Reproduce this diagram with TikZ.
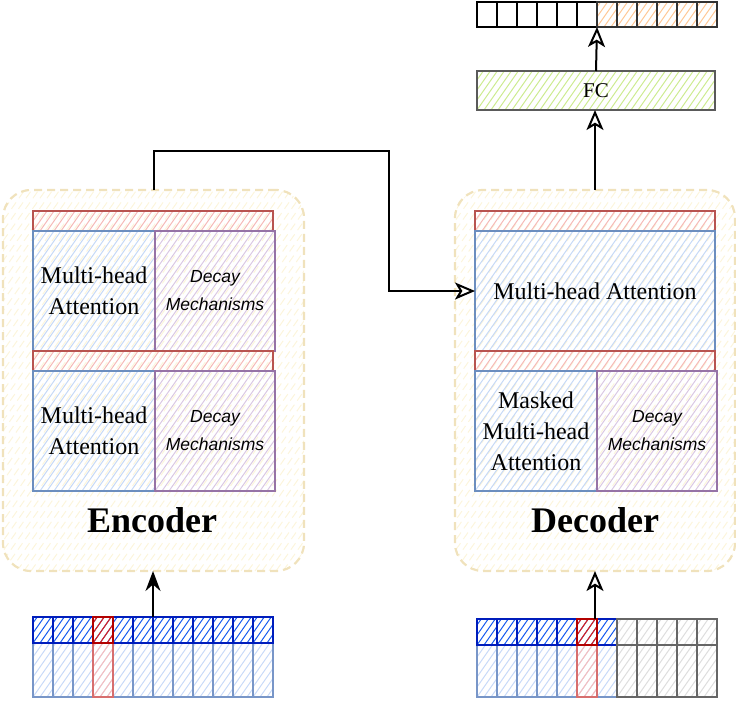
\documentclass[tikz,border=0pt]{standalone}
\usepackage{fontspec}
\setmainfont{Liberation Serif}
\newfontfamily\arialf{Liberation Sans}
\usetikzlibrary{arrows.meta}
\definecolor{contS}{RGB}{240,226,188}
\definecolor{contH}{RGB}{252,245,220}
\definecolor{redS}{RGB}{184,84,80}
\definecolor{redH}{RGB}{245,185,183}
\definecolor{bluS}{RGB}{108,142,191}
\definecolor{bluH}{RGB}{198,217,246}
\definecolor{purS}{RGB}{150,115,166}
\definecolor{purH}{RGB}{218,200,227}
\definecolor{grnS}{RGB}{90,90,90}
\definecolor{grnH}{RGB}{205,235,145}
\definecolor{orgH}{RGB}{255,200,150}
\definecolor{dbS}{RGB}{0,29,188}
\definecolor{dbH}{RGB}{20,90,240}
\definecolor{drS}{RGB}{178,0,0}
\definecolor{drH}{RGB}{229,30,20}
\definecolor{gyS}{RGB}{102,102,102}
\definecolor{gyH}{RGB}{222,222,222}
\definecolor{lbS}{RGB}{120,150,200}
\definecolor{lbH}{RGB}{200,218,248}
\definecolor{lrS}{RGB}{215,110,110}
\definecolor{lrH}{RGB}{248,190,190}
\newcommand\hatchlines[1]{%
  \foreach \k in {-280,-273,...,310}{%
    \draw[#1,line width=1pt] ([xshift=\k pt]path picture bounding box.south west) -- ++(280pt,400pt);}}
\begin{document}
\begin{tikzpicture}[x=1pt,y=-1pt,
  box/.style 2 args={draw=#1, path picture={\hatchlines{#2}},
     line width=1.6pt, inner sep=0pt, outer sep=0pt},
  cont/.style={draw=contS, path picture={\hatchlines{contH}},
     line width=2.2pt, dash pattern=on 8pt off 5pt,
     rounded corners=28pt, inner sep=0pt, outer sep=0pt},
  serif/.style={font=\fontsize{24}{31}\selectfont, align=center, text=black},
  decay/.style={font=\arialf\itshape\fontsize{17.5}{28}\selectfont, align=center, text=black},
  title/.style={font=\bfseries\fontsize{36}{38}\selectfont, text=black},
  arr/.style={draw=black, line width=2pt, -{Stealth[length=20pt,width=15pt]}},
  oarr/.style={draw=black, line width=2pt, -{Stealth[open,length=20pt,width=17pt,inset=5pt]}},
  cell/.style 2 args={box={#1}{#2}, minimum width=20pt, line width=1.5pt}
]
\useasboundingbox (0,0) rectangle (736,702);

% containers
\node[cont, minimum width=301pt, minimum height=381pt] (enc) at (153.5,380.5) {};
\node[cont, minimum width=280pt, minimum height=381pt] (dec) at (595,380.5) {};

% encoder blocks
\node[box={redS}{redH}, minimum width=240pt, minimum height=20pt] (er1) at (153,221) {};
\node[box={bluS}{bluH}, minimum width=122pt, minimum height=120pt, serif] (emha1) at (94,291) {Multi-head\\Attention};
\node[box={purS}{purH}, minimum width=120pt, minimum height=120pt, decay] (edec1) at (215,291) {Decay\\Mechanisms};
\node[box={redS}{redH}, minimum width=240pt, minimum height=20pt] (er2) at (153,361) {};
\node[box={bluS}{bluH}, minimum width=122pt, minimum height=120pt, serif] (emha2) at (94,431) {Multi-head\\Attention};
\node[box={purS}{purH}, minimum width=120pt, minimum height=120pt, decay] (edec2) at (215,431) {Decay\\Mechanisms};
\node[title] (enclab) at (152,520) {Encoder};

% decoder blocks
\node[box={redS}{redH}, minimum width=240pt, minimum height=20pt] (dr1) at (595,221) {};
\node[box={bluS}{bluH}, minimum width=240pt, minimum height=120pt, serif] (dmha) at (595,291) {Multi-head Attention};
\node[box={redS}{redH}, minimum width=240pt, minimum height=20pt] (dr2) at (595,361) {};
\node[box={bluS}{bluH}, minimum width=122pt, minimum height=120pt, serif] (dmask) at (536,431) {Masked\\Multi-head\\Attention};
\node[box={purS}{purH}, minimum width=120pt, minimum height=120pt, decay] (ddec) at (657,431) {Decay\\Mechanisms};
\node[title] (declab) at (595,520) {Decoder};

% FC
\node[box={grnS}{grnH}, minimum width=238pt, minimum height=39pt, serif, font=\fontsize{21}{24}\selectfont] (fc) at (596,90.5) {FC};

% output row
\foreach \i in {0,...,5}
  \node[cell={black}{white}, minimum height=25pt] (o\i) at ({487+20*\i},14.5) {};
\foreach \i in {6,...,11}
  \node[cell={black!80}{orgH}, minimum height=25pt] (o\i) at ({487+20*\i},14.5) {};

% encoder input
\foreach \i in {0,...,11} {
  \node[cell={lbS}{lbH}, minimum height=54pt] (eb\i) at ({43+20*\i},670) {};
  \node[cell={dbS}{dbH}, minimum height=26pt] (ei\i) at ({43+20*\i},630) {};
}
\node[cell={lrS}{lrH}, minimum height=54pt] (ebr) at (103,670) {};
\node[cell={drS}{drH}, minimum height=26pt] (eir) at (103,630) {};

% decoder input
\foreach \i in {0,...,6} {
  \node[cell={lbS}{lbH}, minimum height=52pt] (db\i) at ({487+20*\i},671) {};
  \node[cell={dbS}{dbH}, minimum height=26pt] (di\i) at ({487+20*\i},632) {};
}
\foreach \i in {7,...,11} {
  \node[cell={gyS}{gyH}, minimum height=52pt] (db\i) at ({487+20*\i},671) {};
  \node[cell={gyS}{gyH}, minimum height=26pt] (di\i) at ({487+20*\i},632) {};
}
\node[cell={lrS}{lrH}, minimum height=52pt] (dbr) at (587,671) {};
\node[cell={drS}{drH}, minimum height=26pt] (dir) at (587,632) {};

% connectors
\draw[arr] (ei5.north east) -- (enc.south -| ei5.north east);
\draw[oarr] (dec.south |- dir.north) -- (dec.south);
\draw[oarr] (dec.north) -- (fc.south -| dec.north);
\draw[oarr] (fc.north) -- (o5.south east);
\coordinate (bend) at (389,151);
\draw[oarr] (enc.north) |- (bend) |- (dmha.west);
\end{tikzpicture}
\end{document}
